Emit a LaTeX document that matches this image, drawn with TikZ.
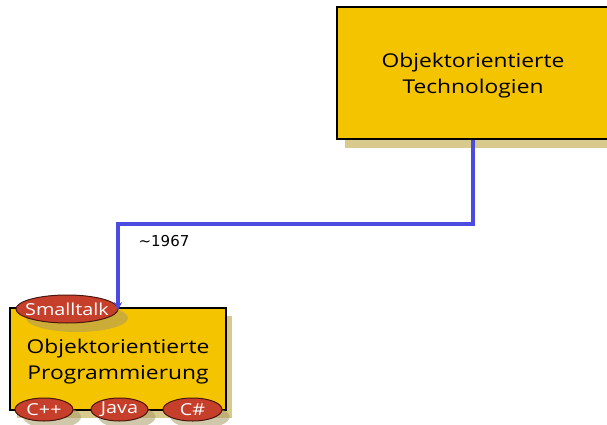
\documentclass[tikz,border=0pt]{standalone}
\usepackage{fontspec}
\setmainfont{Open Sans}[FakeStretch=1.2]
\newfontfamily\yearfont{DejaVu Sans}
\usetikzlibrary{arrows.meta}
\definecolor{boxgold}{HTML}{F5C400}
\definecolor{boxshade}{HTML}{D8CA8C}
\definecolor{tagred}{HTML}{C63F2B}
\definecolor{tagedge}{HTML}{4A160C}
\definecolor{tagshade}{HTML}{A89A64}
\definecolor{linkblue}{HTML}{4B4BE0}
\tikzset{
  conceptbox/.style={rectangle, draw=black, line width=1.6pt, fill=boxgold},
  boxtext/.style={align=center, inner sep=0pt, font=\fontsize{19}{26}\selectfont},
  boxshadow/.style={fill=boxshade, draw=none},
  tagoval/.style={draw=tagedge, line width=1pt, fill=tagred},
  tagtext/.style={text=white, inner sep=0pt, font=\fontsize{16.5}{18}\selectfont},
  tagshadow/.style={fill=tagshade, fill opacity=0.55, draw=none},
  link/.style={draw=linkblue, line width=3.2pt,
    -{Stealth[length=8pt,width=8pt]}},
  yearlabel/.style={font=\yearfont\fontsize{15}{17}\selectfont, inner sep=0pt}
}
\begin{document}
\begin{tikzpicture}[x=1pt,y=-1pt]
  \useasboundingbox (0,0) rectangle (607,425);
  \clip (0,0) rectangle (607,425);

  % drop shadows of the two concept boxes
  \fill[boxshadow] (345,15) rectangle (620,148);
  \fill[boxshadow] (17,316) rectangle (232,418);

  % concept boxes
  \node[conceptbox, minimum width=272pt, minimum height=132pt] (tech) at (473,73) {};
  \node[boxtext] (techtext) at (473,76) {Objektorientierte\\Technologien};
  \node[conceptbox, minimum width=216pt, minimum height=102pt] (oop) at (118,359) {};
  \node[boxtext] (ooptext) at (118,362) {Objektorientierte\\Programmierung};

  % shadows of the language tags
  \fill[tagshadow] (77,318) ellipse [x radius=51, y radius=14];
  \fill[tagshadow] (52,417) ellipse [x radius=29, y radius=11.5];
  \fill[tagshadow] (127,417) ellipse [x radius=28.5, y radius=11.5];
  \fill[tagshadow] (200,417) ellipse [x radius=29.5, y radius=11.5];

  % language tags: oval first, then its label
  \path[tagoval] (67,309) ellipse [x radius=51, y radius=14];
  \node[tagtext] (smalltalk) at (67,309) {Smalltalk};
  \path[tagoval] (44,409.5) ellipse [x radius=29, y radius=11.5];
  \node[tagtext] (cpp) at (44,409.5) {C++};
  \path[tagoval] (119.5,409.5) ellipse [x radius=28.5, y radius=11.5];
  \node[tagtext] (java) at (119.5,409.5) {Java};
  \path[tagoval] (192.5,409.5) ellipse [x radius=29.5, y radius=11.5];
  \node[tagtext] (csharp) at (192.5,409.5) {C\#};

  % connector with its date
  \coordinate (elbow) at (300,224);
  \draw[link] (tech.south) |- (elbow) -| ([yshift=-3pt]oop.north);
  \node[yearlabel] (year) at (164,241) {\textasciitilde 1967};
\end{tikzpicture}
\end{document}
